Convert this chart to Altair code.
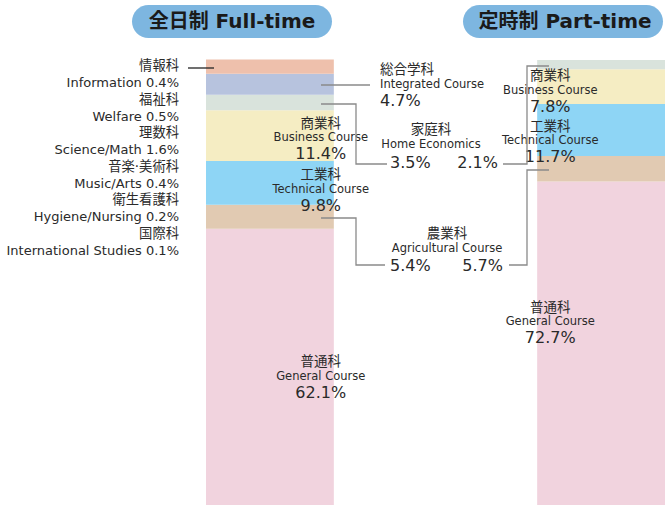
import altair as alt
import pandas as pd

# ---------------- data ----------------
groups = ["Full-time", "Part-time"]
courses = ["General", "Agricultural", "Technical", "Business", "Home Economics", "Integrated", "Other"]
ja_names = ["普通科", "農業科", "工業科", "商業科", "家庭科", "総合学科", "その他"]
en_names = ["General Course", "Agricultural Course", "Technical Course", "Business Course",
            "Home Economics", "Integrated Course", "Other"]
full_values = [62.1, 5.4, 9.8, 11.4, 3.5, 4.7]
part_values = [72.7, 5.7, 11.7, 7.8, 2.1, 0.0]

small_ja = ["情報科", "福祉科", "理数科", "音楽·美術科", "衛生看護科", "国際科"]
small_en = ["Information", "Welfare", "Science/Math", "Music/Arts", "Hygiene/Nursing", "International Studies"]
small_values = [0.4, 0.5, 1.6, 0.4, 0.2, 0.1]

colors = ["#F1D3DE", "#E1CAB2", "#8ED5F5", "#F5EDC3", "#D9E3DC", "#B7C3DE", "#EEC0AC"]

FONT = "DejaVu Sans, Noto Sans CJK JP"
TXT = "#2a2a2a"

# ---------------- bar table ----------------
rows = []
for g, vals in [("Full-time", full_values + [round(sum(small_values), 1)]),
                ("Part-time", part_values + [0.0])]:
    base = 0.0
    for i, (c, v) in enumerate(zip(courses, vals)):
        if v > 0:
            rows.append(dict(group=g, course=c, value=v, y0=base, y1=base + v,
                             mid=base + v / 2, order=i))
        base += v
bars = pd.DataFrame(rows)

Y_TOP, Y_BOT = 60, 505
xscale = alt.Scale(domain=groups, range=[206, 665], paddingInner=0.614, paddingOuter=0)
yscale = alt.Scale(domain=[0, 100], range=[Y_BOT, Y_TOP])
px_per_unit = (Y_BOT - Y_TOP) / 100.0

bar_layer = alt.Chart(bars).mark_bar(cornerRadius=0).encode(
    x=alt.X("group:N", scale=xscale, axis=None),
    y=alt.Y("y0:Q", scale=yscale, axis=None),
    y2="y1:Q",
    color=alt.Color("course:N", scale=alt.Scale(domain=courses, range=colors), legend=None),
)

# ---------------- labels inside bars ----------------
# pixel shift of each label block from its segment's middle (downwards positive)
inside = [("Full-time", "Business", 2.5), ("Full-time", "Technical", 7), ("Full-time", "General", 10),
          ("Part-time", "Business", 4), ("Part-time", "Technical", 11), ("Part-time", "General", -21)]
lab_rows = []
for g, c, off in inside:
    r = bars[(bars.group == g) & (bars.course == c)].iloc[0]
    i = courses.index(c)
    lab_rows.append(dict(group=g, ly=r["mid"] - off / px_per_unit, ja=ja_names[i], en=en_names[i],
                         pct=f"{r['value']:.1f}%"))
labs = pd.DataFrame(lab_rows)

def inner_text(field, dy, size):
    return alt.Chart(labs).mark_text(font=FONT, fontSize=size, color=TXT, dy=dy,
                                     baseline="middle").encode(
        x=alt.X("group:N", scale=xscale, axis=None),
        y=alt.Y("ly:Q", scale=yscale, axis=None),
        text=f"{field}:N",
    )

inner = [inner_text("ja", -14.5, 13.5), inner_text("en", 0, 11.5), inner_text("pct", 16, 16)]

# ---------------- titles (pills) ----------------
pills = pd.DataFrame({"t": ["全日制 Full-time", "定時制 Part-time"],
                      "x0": [132, 463], "x1": [332, 663], "xc": [232, 565]})
pill = alt.Chart(pills).mark_rect(color="#7DB6E0", cornerRadius=16.5).encode(
    x=alt.X("x0:Q", scale=None), x2="x1:Q", y=alt.value(5), y2=alt.value(38))
pill_text = alt.Chart(pills).mark_text(font=FONT, fontSize=20, fontWeight="bold", color="#1a1a1a",
                                       baseline="middle").encode(
    x=alt.X("xc:Q", scale=None), y=alt.value(22), text="t:N")

# ---------------- left list ----------------
left_rows = []
for k, (j, e, v) in enumerate(zip(small_ja, small_en, small_values)):
    left_rows.append(dict(t=j, py=66 + k * 33.5, s=13.3))
    left_rows.append(dict(t=f"{e} {v}%", py=83 + k * 33.5, s=13))
left = pd.DataFrame(left_rows)
left_layers = []
for s in sorted(left.s.unique()):
    left_layers.append(alt.Chart(left[left.s == s]).mark_text(
        font=FONT, fontSize=float(s), color=TXT, align="right", baseline="middle").encode(
        x=alt.value(179), y=alt.Y("py:Q", scale=None), text="t:N"))

# ---------------- middle annotations ----------------
fv = dict(zip(courses, full_values))
pv = dict(zip(courses, part_values))
mid_rows = [
    dict(t="総合学科", px=380, py=70, s=13.5, a="left"),
    dict(t="Integrated Course", px=380, py=85, s=11.5, a="left"),
    dict(t=f"{fv['Integrated']}%", px=380, py=101, s=16, a="left"),
    dict(t="家庭科", px=431, py=130, s=13.5, a="center"),
    dict(t="Home Economics", px=431, py=145, s=11.5, a="center"),
    dict(t=f"{fv['Home Economics']}%", px=390, py=163, s=16, a="left"),
    dict(t=f"{pv['Home Economics']}%", px=498, py=163, s=16, a="right"),
    dict(t="農業科", px=447, py=234, s=13.5, a="center"),
    dict(t="Agricultural Course", px=447, py=249, s=11.5, a="center"),
    dict(t=f"{fv['Agricultural']}%", px=390, py=266, s=16, a="left"),
    dict(t=f"{pv['Agricultural']}%", px=503, py=266, s=16, a="right"),
]
mids = pd.DataFrame(mid_rows)
mid_layers = []
for a in ["left", "center", "right"]:
    for s in sorted(mids.s.unique()):
        sub = mids[(mids.a == a) & (mids.s == s)]
        if len(sub):
            mid_layers.append(alt.Chart(sub).mark_text(font=FONT, fontSize=float(s), color=TXT,
                                                       align=a, baseline="middle").encode(
                x=alt.X("px:Q", scale=None), y=alt.Y("py:Q", scale=None), text="t:N"))

# ---------------- connector lines ----------------
paths = {
    "info": [(188, 68), (214, 68)],
    "integ": [(321, 85), (370, 85)],
    "home_f": [(321, 104), (356, 104), (356, 164), (387, 164)],
    "home_p": [(503, 164), (527, 164), (527, 66), (549, 66)],
    "agri_f": [(321, 218), (356, 218), (356, 265), (385, 265)],
    "agri_p": [(509, 265), (527, 265), (527, 170), (549, 170)],
}
line_rows = []
for name, pts in paths.items():
    for k, (px, py) in enumerate(pts):
        line_rows.append(dict(path=name, k=k, px=px, py=py))
lines = pd.DataFrame(line_rows)
grey_lines = alt.Chart(lines[lines.path != "info"]).mark_line(color="#8a8a8a", strokeWidth=1.3).encode(
    x=alt.X("px:Q", scale=None), y=alt.Y("py:Q", scale=None), detail="path:N", order="k:Q")
black_line = alt.Chart(lines[lines.path == "info"]).mark_line(color="#222222", strokeWidth=1.3).encode(
    x=alt.X("px:Q", scale=None), y=alt.Y("py:Q", scale=None), detail="path:N", order="k:Q")

chart = alt.layer(
    bar_layer, *inner, pill, pill_text, *left_layers, *mid_layers, grey_lines, black_line
).resolve_scale(x="independent", y="independent").properties(
    width=665, height=506, padding=0, autosize=alt.AutoSizeParams(type="none"),
    background="white",
).configure_view(stroke=None)

chart.save("out.html", embed_options={"renderer": "svg", "actions": False})
